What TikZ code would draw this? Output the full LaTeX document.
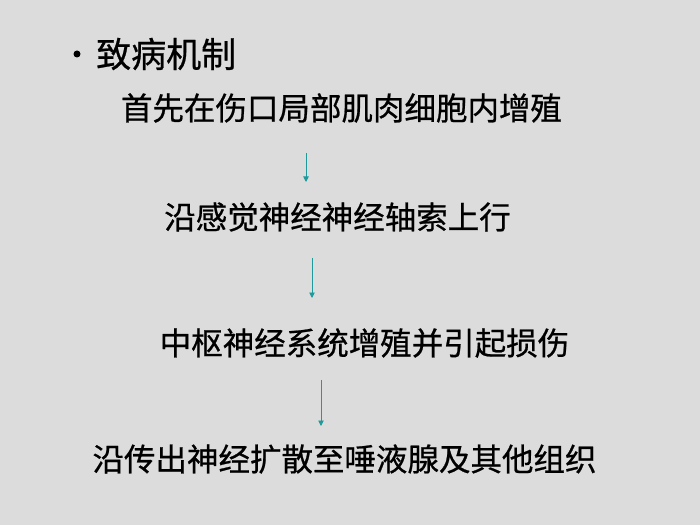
\documentclass[tikz,border=0pt]{standalone}
\usepackage{fontspec}
\setmainfont{Noto Sans CJK SC}[FakeBold=0.7]
\usetikzlibrary{arrows.meta}
\definecolor{bggray}{HTML}{DCDCDC}
\definecolor{arrowteal}{HTML}{1E9A9A}
\tikzset{
  line/.style={inner sep=0pt, font=\fontsize{31.5}{36}\selectfont, anchor=center},
  flowarrow/.style={draw=arrowteal, line width=0.9pt, -{Triangle[length=5.5pt,width=5.5pt]}}
}
\begin{document}
\begin{tikzpicture}[x=1pt,y=1pt]
\fill[bggray] (0,0) rectangle (700,525);
\useasboundingbox (0,0) rectangle (700,525);
\node[circle, fill=black, inner sep=0pt, minimum size=7pt] (bullet) at (77,471) {};
\node[inner sep=0pt, anchor=west, font=\fontsize{35}{40}\selectfont] (title) at (96,471) {致病机制};
\node[line] (l1) at (341.5,417) {首先在伤口局部肌肉细胞内增殖};
\node[line] (l2) at (337.5,308) {沿感觉神经神经轴索上行};
\node[line] (l3) at (364.5,182) {中枢神经系统增殖并引起损伤};
\node[line] (l4) at (344.5,66) {沿传出神经扩散至唾液腺及其他组织};
\coordinate (a1s) at (306,372); \coordinate (a1e) at (306,343);
\coordinate (a2s) at (312,267); \coordinate (a2e) at (312,227);
\coordinate (a3s) at (321,145); \coordinate (a3e) at (321,99);
\draw[flowarrow] (a1s) -- (a1e);
\draw[flowarrow] (a2s) -- (a2e);
\draw[flowarrow] (a3s) -- (a3e);
\end{tikzpicture}
\end{document}
